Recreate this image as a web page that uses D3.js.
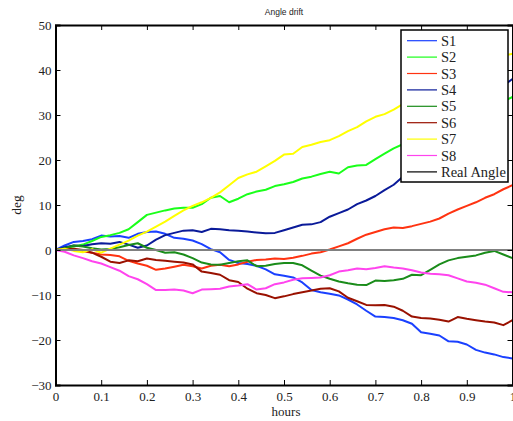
<!DOCTYPE html>
<html>
<head>
<meta charset="utf-8">
<script src="https://cdn.jsdelivr.net/npm/d3@7"></script>
<style>
  body { margin: 0; background: #fff; }
  text { fill: #222; }
</style>
</head>
<body>
<div id="chart"></div>
<script>
const width = 513;
const height = 421;

// time axis (hours), one sample every 0.02 h
const hours = [0, 0.02, 0.04, 0.06, 0.08, 0.1, 0.12, 0.14, 0.16, 0.18, 0.2, 0.22, 0.24, 0.26, 0.28, 0.3, 0.32, 0.34, 0.36, 0.38,
  0.4, 0.42, 0.44, 0.46, 0.48, 0.5, 0.52, 0.54, 0.56, 0.58, 0.6, 0.62, 0.64, 0.66, 0.68, 0.7, 0.72, 0.74, 0.76, 0.78,
  0.8, 0.82, 0.84, 0.86, 0.88, 0.9, 0.92, 0.94, 0.96, 0.98, 1];

const s1 = [0, 1.0, 1.8, 2.0, 2.4, 3.2, 3.0, 3.1, 2.7, 3.6, 4.0, 4.1, 3.6, 2.7, 2.5, 2.1, 1.3, 0.2, -0.5, -2.2,
  -2.9, -3.1, -3.5, -4.3, -5.4, -5.7, -6.1, -7.2, -8.9, -9.4, -9.7, -10.1, -11.0, -12.1, -13.5, -14.8, -14.9, -15.1, -15.6, -16.4,
  -18.3, -18.6, -19.0, -20.3, -20.4, -21.0, -22.2, -22.8, -23.2, -23.8, -24.1];
const s2 = [0, 0.4, 0.8, 1.2, 2.0, 2.9, 3.3, 3.8, 4.6, 6.2, 7.8, 8.3, 8.8, 9.2, 9.4, 9.4, 10.2, 11.6, 12.0, 10.6,
  11.4, 12.4, 13.0, 13.4, 14.2, 14.6, 15.1, 15.9, 16.3, 16.9, 17.4, 17.0, 18.4, 18.8, 18.9, 20.2, 21.4, 22.6, 23.5, 24.5,
  25.6, 26.3, 27.5, 28.4, 29.0, 30.2, 31.0, 31.6, 32.4, 33.0, 34.0];
const s3 = [0, 0.2, 0.0, -0.3, -0.6, -1.0, -1.1, -1.4, -2.4, -3.0, -3.5, -4.4, -4.1, -3.7, -3.3, -3.6, -4.1, -3.5, -3.3, -3.6,
  -3.2, -2.6, -2.2, -2.1, -1.9, -2.0, -1.7, -1.3, -0.8, -0.5, 0.1, 0.8, 1.5, 2.5, 3.4, 4.0, 4.6, 5.0, 4.9, 5.3,
  5.8, 6.3, 7.0, 8.1, 9.0, 9.8, 10.6, 11.6, 12.4, 13.5, 14.4];
const s4 = [0, 0.6, 1.0, 0.9, 1.3, 1.5, 1.4, 1.8, 1.2, 0.5, 1.0, 2.3, 3.3, 3.8, 4.3, 4.4, 4.0, 4.7, 4.6, 4.4,
  4.3, 4.1, 3.9, 3.7, 3.8, 4.4, 5.0, 5.6, 5.7, 6.2, 7.4, 8.2, 9.0, 10.2, 11.0, 12.0, 13.3, 14.5, 16.3, 18.0,
  19.5, 21.0, 23.0, 24.5, 26.3, 28.0, 30.0, 32.0, 33.8, 36.5, 38.0];
const s5 = [0, 0.4, 1.0, 0.8, 0.4, 0.1, 0.2, 0.6, 1.1, 1.5, 0.5, 0.0, -0.6, -0.5, -1.0, -1.8, -2.8, -3.2, -3.3, -2.9,
  -2.5, -2.3, -3.6, -3.5, -3.1, -2.9, -2.9, -3.4, -4.6, -5.7, -6.4, -7.0, -7.4, -7.7, -7.8, -6.8, -6.9, -6.7, -6.4, -5.5,
  -5.6, -4.4, -3.2, -2.3, -1.8, -1.5, -1.2, -0.6, -0.2, -1.0, -1.8];
const s6 = [0, 0.2, 0.3, 0.0, -0.6, -1.5, -2.6, -2.9, -2.3, -2.5, -1.9, -2.2, -2.4, -2.6, -2.8, -3.2, -4.8, -5.1, -5.5, -6.7,
  -7.1, -8.6, -9.6, -10.0, -10.7, -10.3, -9.8, -9.4, -9.0, -8.6, -8.5, -9.2, -10.6, -11.4, -12.2, -12.3, -12.2, -12.6, -13.5, -14.8,
  -15.1, -15.2, -15.5, -15.9, -14.9, -15.3, -15.6, -15.9, -16.1, -16.7, -15.6];
const s7 = [0, 0.3, -0.2, -0.5, 0.2, -0.6, 0.3, 1.2, 2.1, 3.2, 4.1, 5.2, 6.3, 7.6, 8.8, 9.8, 10.6, 11.6, 12.8, 14.4,
  16.0, 16.8, 17.4, 18.6, 19.8, 21.2, 21.4, 22.9, 23.4, 24.0, 24.4, 25.3, 26.4, 27.3, 28.6, 29.6, 30.2, 31.2, 32.4, 33.3,
  34.5, 35.4, 36.3, 37.2, 38.1, 39.0, 40.1, 40.8, 41.9, 43.2, 43.6];
const s8 = [0, -0.4, -1.2, -1.8, -2.5, -3.0, -3.8, -4.6, -5.8, -6.5, -7.6, -8.9, -8.9, -8.8, -9.0, -9.6, -8.8, -8.7, -8.6, -8.1,
  -7.9, -7.6, -8.8, -8.5, -7.6, -7.2, -6.6, -6.3, -6.2, -6.1, -5.6, -4.8, -4.5, -4.1, -4.3, -4.0, -3.6, -3.9, -4.1, -4.5,
  -5.0, -5.3, -5.4, -5.6, -6.3, -7.0, -7.3, -7.7, -8.5, -9.3, -9.4];
const realAngle = [0, 0];

const seriesNames = ['S1', 'S2', 'S3', 'S4', 'S5', 'S6', 'S7', 'S8', 'Real Angle'];
const seriesColors = ['#1a40ff', '#1aff1a', '#ff3311', '#0a1a99', '#1a8c1a', '#991100', '#ffff00', '#ff44ee', '#000000'];

const xTicks = [0, 0.1, 0.2, 0.3, 0.4, 0.5, 0.6, 0.7, 0.8, 0.9, 1];
const yTicks = [-30, -20, -10, 0, 10, 20, 30, 40, 50];

const plotLeft = 55.5, plotRight = 512.5, plotTop = 25, plotBottom = 385;

const svg = d3.select('#chart')
  .append('svg')
  .attr('width', width)
  .attr('height', height)
  .style('font-family', '"Liberation Serif", "Times New Roman", serif');

const xScale = d3.scaleLinear().domain([0, 1]).range([plotLeft, plotRight]);
const yScale = d3.scaleLinear().domain([-30, 50]).range([plotBottom, plotTop]);

svg.append('clipPath')
  .attr('id', 'plot-clip')
  .append('rect')
  .attr('x', plotLeft)
  .attr('y', plotTop)
  .attr('width', plotRight - plotLeft)
  .attr('height', plotBottom - plotTop);

const series = [s1, s2, s3, s4, s5, s6, s7, s8].map((vals, i) => ({
  name: seriesNames[i],
  color: seriesColors[i],
  points: vals.map((v, j) => [hours[j], v])
}));
series.push({ name: 'Real Angle', color: '#808080', points: [[0, realAngle[0]], [1, realAngle[1]]] });

const line = d3.line()
  .x(d => xScale(d[0]))
  .y(d => yScale(d[1]));

svg.append('g')
  .attr('clip-path', 'url(#plot-clip)')
  .selectAll('path')
  .data(series)
  .enter()
  .append('path')
  .attr('d', d => line(d.points))
  .attr('fill', 'none')
  .attr('stroke', d => d.color)
  .attr('stroke-width', 2)
  .attr('stroke-linejoin', 'round');

// axes, matlab style: ticks inside, box all round
const xAxis = d3.axisBottom(xScale).tickValues(xTicks).tickSize(-5).tickPadding(6.5)
  .tickFormat(d => d3.format('~g')(d));
const yAxis = d3.axisLeft(yScale).tickValues(yTicks).tickSize(-5).tickPadding(4)
  .tickFormat(d => d3.format('d')(d).replace('-', '\u2212'));

svg.append('g')
  .attr('transform', 'translate(0,' + plotBottom + ')')
  .call(xAxis);
svg.append('g')
  .attr('transform', 'translate(' + plotLeft + ',0)')
  .call(yAxis);

svg.append('g')
  .attr('transform', 'translate(0,' + plotTop + ')')
  .call(d3.axisTop(xScale).tickValues(xTicks).tickSize(-5).tickFormat(''));
svg.append('g')
  .attr('transform', 'translate(' + plotRight + ',0)')
  .call(d3.axisRight(yScale).tickValues(yTicks).tickSize(-5).tickFormat(''));

svg.selectAll('.domain').attr('stroke', '#000').attr('stroke-width', 2);
svg.selectAll('.tick line').attr('stroke', '#000').attr('stroke-width', 1);
svg.selectAll('.tick text')
  .style('font-family', '"Liberation Serif", serif')
  .style('font-size', '13px')
  .attr('fill', '#222');

// titles
svg.append('text')
  .attr('x', (plotLeft + plotRight) / 2)
  .attr('y', 15)
  .attr('text-anchor', 'middle')
  .style('font-family', '"Liberation Sans", Arial, sans-serif')
  .style('font-size', '8.5px')
  .text('Angle drift');

svg.append('text')
  .attr('x', (plotLeft + plotRight) / 2 + 2)
  .attr('y', 416)
  .attr('text-anchor', 'middle')
  .style('font-size', '13px')
  .text('hours');

svg.append('text')
  .attr('transform', 'translate(21,' + ((plotTop + plotBottom) / 2) + ') rotate(-90)')
  .attr('text-anchor', 'middle')
  .style('font-size', '13.5px')
  .text('deg');

// legend
const legend = svg.append('g').attr('id', 'legend');
const legendX = 401, legendY = 30, legendW = 107, legendH = 152, rowH = 16.4;

legend.append('rect')
  .attr('x', legendX)
  .attr('y', legendY)
  .attr('width', legendW)
  .attr('height', legendH)
  .attr('fill', '#fff')
  .attr('stroke', '#000')
  .attr('stroke-width', 1.5);

const rows = legend.selectAll('g.row')
  .data(seriesNames)
  .enter()
  .append('g')
  .attr('class', 'row')
  .attr('transform', (d, i) => 'translate(' + legendX + ',' + (legendY + 10.7 + i * rowH) + ')');

rows.append('line')
  .attr('x1', 6)
  .attr('x2', 36)
  .attr('stroke', (d, i) => seriesColors[i])
  .attr('stroke-width', 1.2);

rows.append('text')
  .attr('x', 40)
  .attr('dy', '0.35em')
  .style('font-size', '14.5px')
  .text(d => d);
</script>
</body>
</html>
